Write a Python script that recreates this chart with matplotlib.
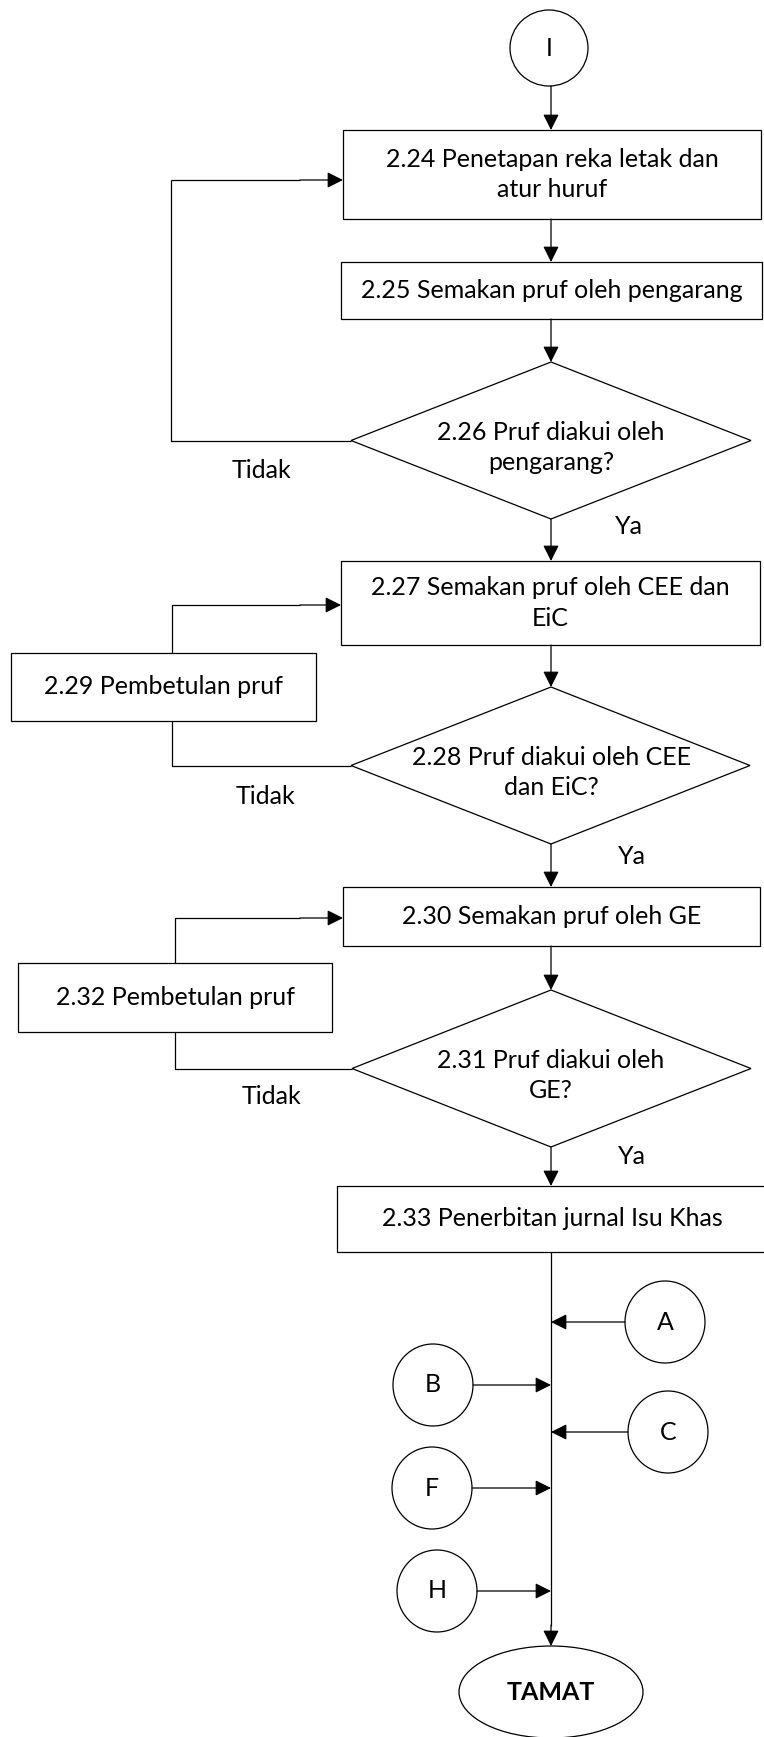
'''
Flowchart: semakan pruf dan penerbitan jurnal Isu Khas.
'''

import matplotlib.pyplot as plt
from matplotlib.patches import Rectangle, Polygon, Ellipse

# Node labels
start_label = 'I'
process_labels = [
    '2.24 Penetapan reka letak dan\natur huruf',
    '2.25 Semakan pruf oleh pengarang',
    '2.27 Semakan pruf oleh CEE dan\nEiC',
    '2.30 Semakan pruf oleh GE',
    '2.33 Penerbitan jurnal Isu Khas',
]
decision_labels = [
    '2.26 Pruf diakui oleh\npengarang?',
    '2.28 Pruf diakui oleh CEE\ndan EiC?',
    '2.31 Pruf diakui oleh\nGE?',
]
correction_labels = ['2.29 Pembetulan pruf', '2.32 Pembetulan pruf']
connector_labels = ['A', 'B', 'C', 'F', 'H']
end_label = 'TAMAT'
yes_label = 'Ya'
no_label = 'Tidak'

# Layout (pixels, y down)
W, H = 764, 1737
CX = 551
process_boxes = [(343, 130, 761, 219), (341, 262, 762, 319), (341, 561, 760, 645),
                 (343, 887, 760, 946), (337, 1186, 768, 1252)]
decision_boxes = [(351, 362, 751, 519), (351, 687, 750, 844), (352, 990, 751, 1147)]
correction_boxes = [(11, 653, 316, 721), (18, 963, 332, 1032)]
loop_x = [171, 172, 175]
no_pos = [(262, 471), (266, 796), (271, 1097)]
yes_pos = [(629, 527), (632, 856), (632, 1157)]
connector_pos = [(665, 1322), (433, 1385), (668, 1432), (432, 1488), (437, 1591)]
end_box = (551, 1692, 184, 92)

FONT = ['Lato', 'DejaVu Sans']
FS = 18
LW = 0.9


def arrow(ax, x0, y0, x1, y1):
    ax.annotate('', xy=(x1, y1), xytext=(x0, y0),
                arrowprops=dict(arrowstyle='-|>', color='black', lw=LW,
                                mutation_scale=24, shrinkA=0, shrinkB=0))


def line(ax, xs, ys):
    ax.plot(xs, ys, color='black', lw=LW, solid_capstyle='butt')


def main() -> None:
    fig = plt.figure(figsize=(W / 100, H / 100), dpi=100)
    ax = fig.add_axes([0, 0, 1, 1])
    ax.set_xlim(0, W)
    ax.set_ylim(H, 0)
    ax.axis('off')

    txt = dict(ha='center', va='center', fontsize=FS, family=FONT,
               linespacing=1.4)

    # Start connector
    ax.add_patch(Ellipse((549, 48), 78, 76, fill=False, lw=LW))
    ax.text(549, 48, start_label, **txt)
    arrow(ax, CX, 86, CX, process_boxes[0][1])

    # Process boxes
    for (x0, y0, x1, y1), lab in zip(process_boxes, process_labels):
        ax.add_patch(Rectangle((x0, y0), x1 - x0, y1 - y0, fill=False, lw=LW))
        ax.text((x0 + x1) / 2, (y0 + y1) / 2, lab, **txt)

    # Decisions
    for (x0, y0, x1, y1), lab in zip(decision_boxes, decision_labels):
        cy = (y0 + y1) / 2
        ax.add_patch(Polygon([(CX, y0), (x1, cy), (CX, y1), (x0, cy)],
                             closed=True, fill=False, lw=LW))
        ax.text(CX, cy + 7, lab, **txt)

    # Correction boxes
    for (x0, y0, x1, y1), lab in zip(correction_boxes, correction_labels):
        ax.add_patch(Rectangle((x0, y0), x1 - x0, y1 - y0, fill=False, lw=LW))
        ax.text((x0 + x1) / 2, (y0 + y1) / 2, lab, **txt)

    # Vertical flow arrows
    arrow(ax, CX, process_boxes[0][3], CX, process_boxes[1][1])
    arrow(ax, CX, process_boxes[1][3], CX, decision_boxes[0][1])
    arrow(ax, CX, decision_boxes[0][3], CX, process_boxes[2][1])
    arrow(ax, CX, process_boxes[2][3], CX, decision_boxes[1][1])
    arrow(ax, CX, decision_boxes[1][3], CX, process_boxes[3][1])
    arrow(ax, CX, process_boxes[3][3], CX, decision_boxes[2][1])
    arrow(ax, CX, decision_boxes[2][3], CX, process_boxes[4][1])

    # Loop 2.26 -> 2.24
    d = decision_boxes[0]
    cy = (d[1] + d[3]) / 2
    line(ax, [d[0], loop_x[0], loop_x[0]], [cy, cy, 180])
    line(ax, [loop_x[0], 300], [180, 180])
    arrow(ax, 300, 180, process_boxes[0][0], 180)

    # Loops via correction boxes
    targets = [(process_boxes[2], 605), (process_boxes[3], 918)]
    for k, (cb, (pb, ty)) in enumerate(zip(correction_boxes, targets)):
        d = decision_boxes[k + 1]
        cy = (d[1] + d[3]) / 2
        lx = loop_x[k + 1]
        line(ax, [d[0], lx, lx], [cy, cy, cb[3]])
        line(ax, [lx, lx, 300], [cb[1], ty, ty])
        arrow(ax, 300, ty, pb[0], ty)

    # Yes / No labels
    for (x, y) in no_pos:
        ax.text(x, y, no_label, **txt)
    for (x, y) in yes_pos:
        ax.text(x, y, yes_label, **txt)

    # Bottom trunk and connectors
    end_top = end_box[1] - end_box[3] / 2
    line(ax, [CX, CX], [process_boxes[4][3], end_top - 20])
    arrow(ax, CX, end_top - 21, CX, end_top)
    for (x, y), lab in zip(connector_pos, connector_labels):
        ax.add_patch(Ellipse((x, y), 80, 82, fill=False, lw=LW))
        ax.text(x, y, lab, **txt)
        if x > CX:
            arrow(ax, x - 40, y, CX, y)
        else:
            arrow(ax, x + 40, y, CX, y)

    # End terminator
    ex, ey, ew, eh = end_box
    ax.add_patch(Ellipse((ex, ey), ew, eh, fill=False, lw=LW))
    ax.text(ex, ey, end_label, fontweight='bold', **txt)

    fig.savefig('out.png', dpi=100)
    plt.close(fig)


if __name__ == "__main__":
    main()
